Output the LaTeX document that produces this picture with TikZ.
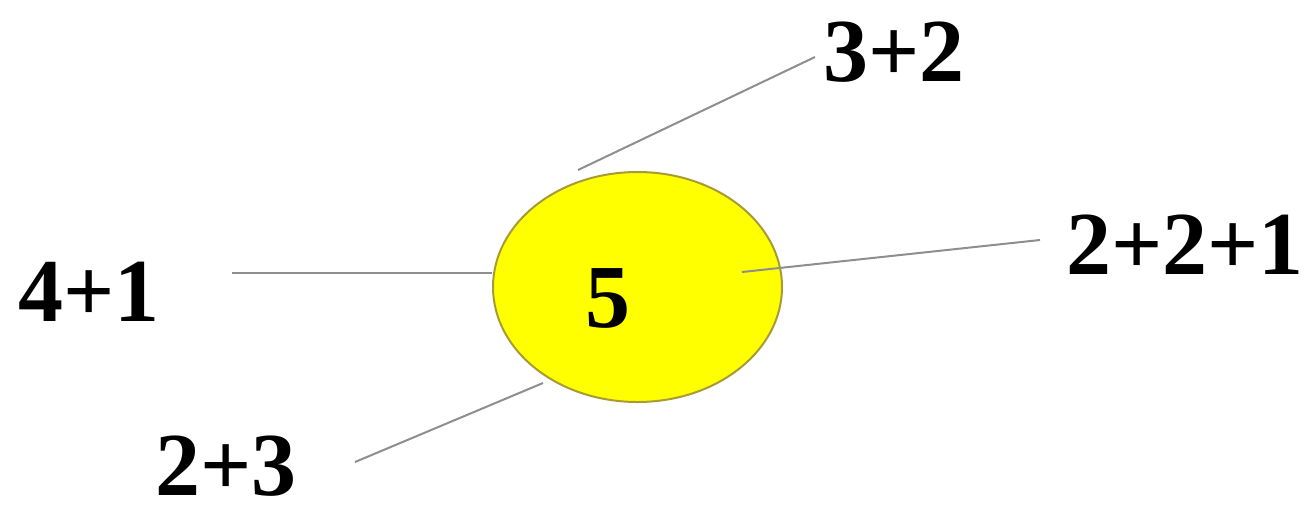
\documentclass[tikz,border=0pt]{standalone}
\usepackage{fontspec}
\setmainfont{Liberation Serif}
\usetikzlibrary{shapes.geometric}
\definecolor{linegray}{RGB}{142,142,142}
\definecolor{rimolive}{RGB}{168,154,53}
\definecolor{fillyel}{RGB}{255,255,0}
\begin{document}
\begin{tikzpicture}[x=0.5pt,y=-0.5pt,
  lbl/.style={inner sep=0pt,font=\fontsize{45}{54}\selectfont\bfseries},
  conn/.style={draw=linegray,line width=1pt}]
\useasboundingbox (0,0) rectangle (1312,527);
\node[ellipse,draw=rimolive,line width=1pt,fill=fillyel,
      minimum width=144.5pt,minimum height=115pt,inner sep=0pt] (c) at (637.5,287) {};
\node[lbl] (five) at (608,298) {5};
\node[lbl] (t32) at (894,52) {3+2};
\node[lbl] (t221) at (1185,245) {2+2+1};
\node[lbl] (t41) at (89,292) {4+1};
\node[lbl] (t23) at (226,466) {2+3};
\coordinate (a32) at (578,170);
\coordinate (b32) at (815,57);
\coordinate (a221) at (742,272);
\coordinate (b221) at (1040,240);
\coordinate (a41) at (492,273);
\coordinate (b41) at (232,273);
\coordinate (a23) at (543,383);
\coordinate (b23) at (355,462);
\draw[conn] (a32) -- (b32);
\draw[conn] (a221) -- (b221);
\draw[conn] (a41) -- (b41);
\draw[conn] (a23) -- (b23);
\end{tikzpicture}
\end{document}
